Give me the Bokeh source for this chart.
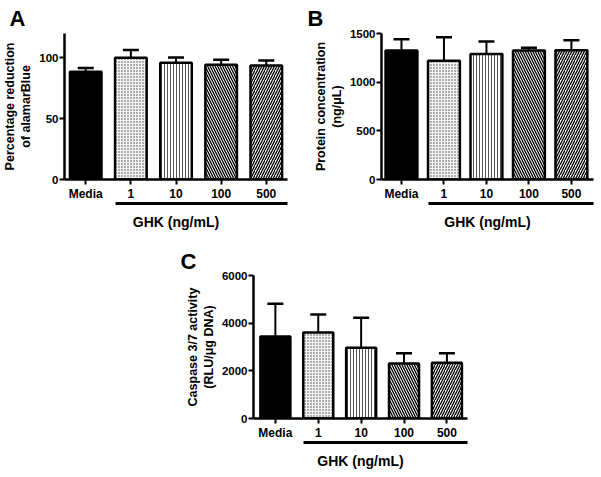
from bokeh.plotting import figure
from bokeh.models import ColumnDataSource, FixedTicker, LinearAxis, Whisker, TeeHead, Range1d
from bokeh.layouts import column, row
from bokeh.embed import file_html
from bokeh.resources import INLINE

# ---- data ----
categories = ["Media", "1", "10", "100", "500"]
group_label = "GHK (ng/mL)"

a_mean = [88.5, 100.0, 96.0, 94.4, 93.8]
a_sem = [3.2, 6.5, 4.3, 4.0, 4.0]
a_ticks = [0, 50, 100]
a_ymax = 120

b_mean = [1325, 1220, 1290, 1325, 1329]
b_sem = [115, 241, 129, 28, 101]
b_ticks = [0, 500, 1000, 1500]
b_ymax = 1500

c_mean = [3440, 3608, 2966, 2308, 2337]
c_sem = [1370, 755, 1259, 432, 403]
c_ticks = [0, 2000, 4000, 6000]
c_ymax = 6000

# ---- styles ----
FONT = "Liberation Sans"
fills = ["black", "#f4f4f4", "white", "white", "white"]
hatches = [" ", "dot", "vertical_line", "left_diagonal_line", "right_diagonal_line"]
hatch_colors = ["black", "#444444", "#555555", "black", "black"]
hatch_scales = [12, 3, 3, 5, 5]
hatch_weights = [1, 1, 1, 1.3, 1.3]


def make_panel(letter, mean, sem, ticks, ymax, ylabel, width, height,
               mbl, mbr, mbt, mbb, x_start, x_end, bar_w, letter_offset, letter_standoff):
    n = len(categories)
    xs = list(range(n))
    src = ColumnDataSource(dict(
        x=xs, top=mean,
        upper=[m + s for m, s in zip(mean, sem)],
        fill=fills, hatch=hatches, hcol=hatch_colors,
        hscale=hatch_scales, hweight=hatch_weights,
    ))
    p = figure(width=width, height=height, output_backend="svg", toolbar_location=None,
               x_range=Range1d(x_start, x_end), y_range=Range1d(0, ymax),
               min_border_left=mbl, min_border_right=mbr,
               min_border_top=mbt, min_border_bottom=mbb,
               title=letter)
    p.outline_line_color = None
    p.grid.visible = False
    p.background_fill_color = "white"

    p.title.text_font = FONT
    p.title.text_font_size = "22px"
    p.title.text_font_style = "bold"
    p.title.text_color = "black"
    p.title.align = "left"
    p.title.offset = letter_offset
    p.title.standoff = letter_standoff

    p.vbar(x="x", top="top", width=bar_w, source=src, fill_color="fill",
           line_color="black", line_width=2.5, hatch_pattern="hatch",
           hatch_color="hcol", hatch_scale="hscale", hatch_weight="hweight")

    w = Whisker(source=src, base="x", upper="upper", lower="top", dimension="height",
                line_color="black", line_width=2,
                upper_head=TeeHead(size=16, line_width=2.5, line_color="black"),
                lower_head=None)
    p.add_layout(w)

    # y axis
    ya = p.yaxis[0]
    ya.ticker = FixedTicker(ticks=ticks)
    ya.axis_line_width = 2.5
    ya.axis_line_color = "black"
    ya.major_tick_out = 5
    ya.major_tick_in = 0
    ya.major_tick_line_width = 2
    ya.major_tick_line_color = "black"
    ya.minor_tick_out = 0
    ya.minor_tick_in = 0
    ya.major_label_standoff = 1
    ya.major_label_text_font = FONT
    ya.major_label_text_font_style = "bold"
    ya.major_label_text_font_size = "11.5px"
    ya.major_label_text_color = "black"
    ya.axis_label = ylabel
    ya.axis_label_standoff = 3
    ya.axis_label_text_font = FONT
    ya.axis_label_text_font_style = "bold"
    ya.axis_label_text_font_size = "12.5px"
    ya.axis_label_text_color = "black"
    ya.axis_label_text_line_height = 1.15

    # x axis
    xa = p.xaxis[0]
    xa.ticker = FixedTicker(ticks=xs)
    xa.major_label_overrides = {i: c for i, c in zip(xs, categories)}
    xa.axis_line_width = 2.5
    xa.axis_line_color = "black"
    xa.major_tick_out = 5
    xa.major_tick_in = 0
    xa.major_tick_line_width = 2
    xa.major_tick_line_color = "black"
    xa.minor_tick_out = 0
    xa.minor_tick_in = 0
    xa.major_label_standoff = 2
    xa.major_label_text_font = FONT
    xa.major_label_text_font_style = "bold"
    xa.major_label_text_font_size = "12px"
    xa.major_label_text_color = "black"

    # bracket under the treated groups
    br = LinearAxis(ticker=FixedTicker(ticks=[]), bounds=(1 - bar_w / 2, x_end),
                    axis_line_width=3, axis_line_color="black",
                    major_tick_out=0, major_tick_in=0,
                    minor_tick_out=0, minor_tick_in=0,
                    major_label_text_font_size="0px",
                    axis_label=group_label, axis_label_standoff=10,
                    axis_label_text_font=FONT, axis_label_text_font_style="bold",
                    axis_label_text_font_size="14px", axis_label_text_color="black")
    p.add_layout(br, "below")
    return p


pA = make_panel("A", a_mean, a_sem, a_ticks, a_ymax, "Percentage reduction\nof alamarBlue",
                300, 240, 61, 13, 32, 61, -0.47, 4.47, 0.70, -55, 6)
pB = make_panel("B", b_mean, b_sem, b_ticks, b_ymax, "Protein concentration\n(ng/\u03bcL)",
                301, 240, 81, 8, 32, 61, -0.47, 4.52, 0.75, -74, 6)
pC = make_panel("C", c_mean, c_sem, c_ticks, c_ymax, "Caspase 3/7 activity\n(RLU/\u03bcg DNA)",
                477, 237, 253, 10, 35, 59, -0.51, 4.48, 0.70, -73, 3)

layout = column(row(pA, pB), pC)
open("out.html", "w").write(file_html(layout, INLINE))
